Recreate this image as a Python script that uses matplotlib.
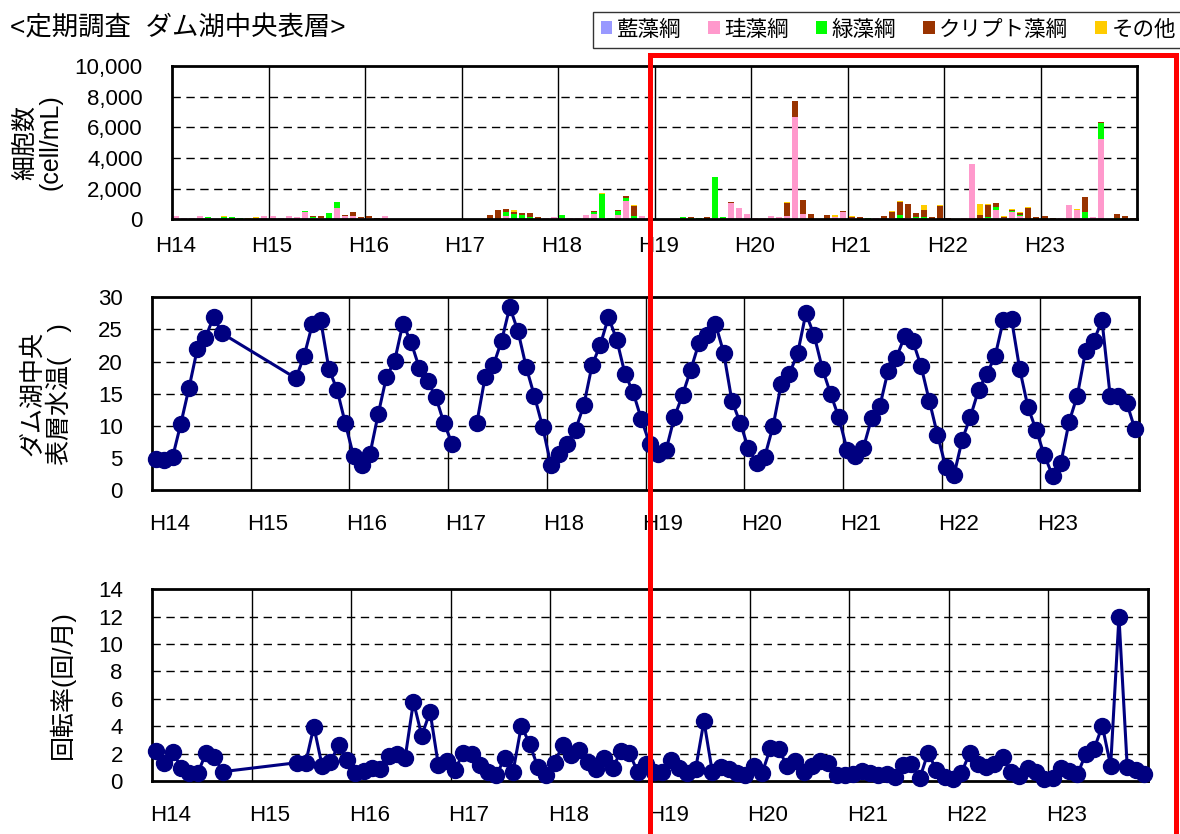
import numpy as np
import matplotlib
matplotlib.use("Agg")
import matplotlib.pyplot as plt
from matplotlib.patches import Rectangle, Patch

plt.rcParams['font.family'] = ['Liberation Sans', 'Noto Sans CJK JP']

W, H = 1180, 834

years = ["H14", "H15", "H16", "H17", "H18", "H19", "H20", "H21", "H22", "H23"]
groups = ["藍藻綱", "珪藻綱", "緑藻綱", "クリプト藻綱", "その他"]
group_colors = ["#9999FF", "#FF99CC", "#00FF00", "#993300", "#FFCC00"]

N = None
# monthly cell counts (cell/mL), Jan..Dec of each year, H14..H23
cyano = [0] * 120
diatom = [
    200, 100, 100, 200, 80, 0, 0, 0, 0, 0, 80, 200,
    200, 80, 200, 150, 470, 80, 100, 0, 730, 215, 215, 80,
    100, 0, 200, 0, 0, 0, 0, 0, 0, 0, 0, 0,
    0, 0, 0, 0, 0, 215, 0, 0, 0, 0, 80, 150,
    60, 80, 80, 280, 340, 80, 0, 280, 1180, 0, 200, 80,
    0, 0, 0, 50, 0, 0, 0, 80, 0, 1050, 730, 340,
    80, 80, 215, 150, 215, 6670, 350, 0, 0, 0, 170, 480,
    80, 0, 0, 80, 0, 80, 0, 80, 80, 0, 0, 0,
    0, 0, 80, 3620, 0, 80, 610, 80, 480, 215, 0, 0,
    0, 0, 80, 930, 610, 80, 120, 5240, 0, 0, 0, 0,
]
green = [
    0, 0, 0, 0, 50, 0, 120, 150, 80, 0, 0, 0,
    0, 0, 0, 0, 60, 40, 0, 410, 390, 0, 0, 0,
    0, 0, 0, 0, 0, 0, 0, 0, 0, 0, 0, 0,
    0, 0, 0, 0, 0, 260, 320, 280, 150, 0, 0, 0,
    220, 0, 0, 0, 130, 1580, 80, 260, 190, 215, 0, 0,
    0, 0, 0, 100, 70, 80, 0, 2650, 150, 0, 0, 0,
    0, 0, 0, 0, 0, 0, 0, 0, 0, 0, 0, 0,
    0, 0, 80, 0, 0, 0, 280, 0, 70, 150, 0, 0,
    0, 0, 0, 0, 0, 50, 190, 0, 60, 60, 0, 0,
    0, 0, 0, 0, 0, 400, 60, 1040, 0, 60, 0, 0,
]
crypto = [
    0, 0, 0, 0, 30, 0, 0, 0, 0, 0, 0, 0,
    0, 0, 0, 0, 0, 110, 140, 0, 0, 86, 260, 70,
    100, 80, 0, 0, 0, 0, 0, 0, 0, 0, 0, 0,
    50, 0, 0, 280, 600, 190, 150, 130, 260, 150, 0, 0,
    0, 0, 0, 0, 60, 0, 0, 60, 130, 670, 0, 0,
    0, 0, 0, 0, 80, 0, 150, 30, 0, 90, 0, 0,
    0, 0, 0, 0, 840, 1050, 910, 350, 0, 280, 0, 60,
    70, 150, 0, 0, 215, 400, 840, 900, 260, 450, 150, 890,
    80, 0, 0, 0, 280, 780, 260, 60, 70, 130, 760, 150,
    215, 80, 0, 0, 0, 980, 0, 70, 0, 290, 215, 80,
]
others = [
    0, 0, 0, 0, 0, 0, 80, 0, 0, 80, 70, 0,
    0, 0, 0, 0, 0, 0, 0, 0, 0, 0, 0, 0,
    0, 0, 0, 0, 0, 0, 0, 0, 0, 0, 0, 0,
    0, 0, 0, 0, 0, 0, 130, 0, 0, 0, 0, 0,
    0, 0, 0, 0, 0, 40, 0, 0, 0, 40, 0, 0,
    0, 0, 0, 0, 0, 0, 0, 0, 0, 0, 0, 0,
    0, 0, 0, 0, 60, 0, 0, 0, 0, 0, 80, 0,
    50, 0, 0, 0, 0, 60, 60, 0, 0, 330, 0, 40,
    0, 0, 0, 0, 720, 60, 0, 60, 60, 60, 60, 0,
    0, 0, 0, 0, 60, 0, 0, 0, 0, 0, 0, 0,
]

# surface water temperature at the reservoir centre
water_temp = [
    4.8, 4.7, 5.1, 10.3, 15.9, 21.9, 23.7, 27.0, 24.4, N, N, N,
    N, N, N, N, N, 17.4, 20.9, 25.8, 26.5, 18.9, 15.6, 10.4,
    5.3, 3.9, 5.6, 11.8, 17.6, 20.1, 25.9, 23.0, 19.0, 16.9, 14.5, 10.4,
    7.2, N, N, 10.5, 17.6, 19.4, 23.2, 28.5, 24.7, 19.1, 14.6, 9.8,
    3.9, 5.6, 7.1, 9.4, 13.2, 19.4, 22.6, 26.9, 23.4, 18.1, 15.2, 11.0,
    7.2, 5.6, 6.2, 11.3, 14.8, 18.7, 22.9, 24.1, 25.9, 21.4, 13.9, 10.5,
    6.5, 4.2, 5.2, 9.9, 16.5, 18.1, 21.3, 27.5, 24.1, 18.9, 15.0, 11.3,
    6.3, 5.3, 6.6, 11.2, 13.1, 18.6, 20.6, 23.9, 23.2, 19.3, 13.9, 8.6,
    3.6, 2.3, 7.8, 11.4, 15.6, 18.1, 20.8, 26.4, 26.6, 18.8, 12.9, 9.3,
    5.4, 2.2, 4.2, 10.6, 14.7, 21.6, 23.2, 26.4, 14.6, 14.6, 13.6, 9.5,
]
# the temperature line restarts after this month (no samples in Feb-Mar H17)
temp_split_after = 36

# turnover rate (times / month)
turnover = [
    2.19, 1.29, 2.14, 0.97, 0.61, 0.56, 2.02, 1.78, 0.68, N, N, N,
    N, N, N, N, N, 1.34, 1.29, 3.97, 1.10, 1.41, 2.63, 1.53,
    0.61, 0.75, 0.97, 0.88, 1.85, 1.97, 1.70, 5.79, 3.31, 5.06, 1.17, 1.46,
    0.80, 2.07, 1.94, 1.18, 0.68, 0.44, 1.70, 0.68, 4.04, 2.70, 1.00, 0.44,
    1.34, 2.63, 1.90, 2.26, 1.36, 0.88, 1.66, 0.93, 2.19, 2.07, 0.68, 1.22,
    0.63, 0.63, 1.53, 0.93, 0.61, 0.88, 4.38, 0.68, 1.05, 0.88, 0.61, 0.44,
    1.12, 0.56, 2.39, 2.34, 1.10, 1.46, 0.63, 1.10, 1.43, 1.29, 0.44, 0.44,
    0.49, 0.75, 0.61, 0.44, 0.49, 0.32, 1.17, 1.24, 0.20, 2.07, 0.80, 0.32,
    0.12, 0.56, 2.02, 1.22, 1.05, 1.24, 1.78, 0.63, 0.37, 0.97, 0.63, 0.12,
    0.20, 0.93, 0.75, 0.49, 1.97, 2.34, 4.02, 1.10, 12.0, 1.00, 0.80, 0.49,
]

NAVY = "#000080"
FS = 16
LABEL_FS = 18


def px_axes(x0, y0, x1, y1):
    return fig.add_axes([x0 / W, 1 - y1 / H, (x1 - x0) / W, (y1 - y0) / H])


def frame(ax, ymax, ystep, label_offset, xpad):
    ax.set_xlim(0, 120)
    ax.set_ylim(0, ymax)
    for s in ax.spines.values():
        s.set_linewidth(2.0)
        s.set_color("black")
    for yv in np.arange(ystep, ymax, ystep):
        ax.axhline(yv, color="black", lw=1.0, dashes=(6, 4), zorder=1)
    for k in range(1, 10):
        ax.axvline(12 * k, color="black", lw=1.0, zorder=1)
    ax.set_xticks(np.arange(10) * 12 + label_offset)
    ax.set_xticklabels(years, fontsize=FS)
    ax.tick_params(axis="both", length=0)
    ax.tick_params(axis="x", pad=xpad)
    ax.tick_params(axis="y", pad=21, labelsize=FS)


fig = plt.figure(figsize=(W / 100, H / 100), dpi=100)

months = np.arange(120) + 0.5

# --- phytoplankton cell counts (stacked bars) ---
ax1 = px_axes(172, 66, 1137, 219.3)
bottom = np.zeros(120)
for vals, col in zip([cyano, diatom, green, crypto, others], group_colors):
    v = np.array(vals, dtype=float)
    ax1.bar(months, v, width=0.75, bottom=bottom, color=col, linewidth=0, zorder=2)
    bottom += v
frame(ax1, 10000, 2000, 0.45, 12)
ax1.set_yticks(np.arange(0, 10001, 2000))
ax1.set_yticklabels([f"{v:,}" for v in range(0, 10001, 2000)])

# --- surface water temperature ---
ax2 = px_axes(152, 297.3, 1139, 490)
t = np.array([np.nan if v is None else v for v in water_temp])
for seg in (slice(0, temp_split_after + 1), slice(temp_split_after + 1, 120)):
    xs, ys = months[seg], t[seg]
    ok = ~np.isnan(ys)
    ax2.plot(xs[ok], ys[ok], color=NAVY, lw=2.2, marker="o", ms=11.5,
             mfc=NAVY, mec=NAVY, zorder=3, clip_on=False)
frame(ax2, 30, 5, 2.1, 17)
ax2.set_yticks(np.arange(0, 31, 5))

# --- turnover rate ---
ax3 = px_axes(152, 589.3, 1148, 781)
r = np.array([np.nan if v is None else v for v in turnover])
ok = ~np.isnan(r)
ax3.plot(months[ok], r[ok], color=NAVY, lw=2.2, marker="o", ms=11.5,
         mfc=NAVY, mec=NAVY, zorder=3, clip_on=False)
frame(ax3, 14, 2, 2.2, 17)
ax3.set_yticks(np.arange(0, 15, 2))

# --- texts ---
fig.text(10 / W, 1 - 28 / H, "<定期調査  ダム湖中央表層>", fontsize=19,
         ha="left", va="center")
fig.text(38 / W, 1 - 142 / H, "細胞数\n(cell/mL)", rotation=90, fontsize=LABEL_FS,
         ha="center", va="center", multialignment="center", linespacing=1.1)
fig.text(46 / W, 1 - 394 / H, "ダム湖中央\n表層水温(　)", rotation=90,
         fontsize=LABEL_FS, ha="center", va="center", multialignment="center",
         linespacing=1.05)
fig.text(62 / W, 1 - 685 / H, "回転率(回/月)", rotation=90, fontsize=LABEL_FS,
         ha="center", va="center")

handles = [Patch(facecolor=c, edgecolor="none") for c in group_colors]
leg = fig.legend(handles, groups, loc="upper left",
                 bbox_to_anchor=(593 / W, 1 - 12 / H), ncol=5, fontsize=15.5,
                 frameon=True, fancybox=False, edgecolor="black",
                 handlelength=0.55, handleheight=0.55, handletextpad=0.2,
                 columnspacing=1.25, borderpad=0.35, borderaxespad=0)
leg.get_frame().set_linewidth(1.0)

# highlighted period
fig.patches.append(Rectangle((650 / W, -0.1), (1175.5 - 650) / W, 1.1 - 55 / H,
                             transform=fig.transFigure, fill=False,
                             edgecolor="#FF0000", linewidth=3.6, zorder=10))

fig.savefig("out.png", dpi=100)
